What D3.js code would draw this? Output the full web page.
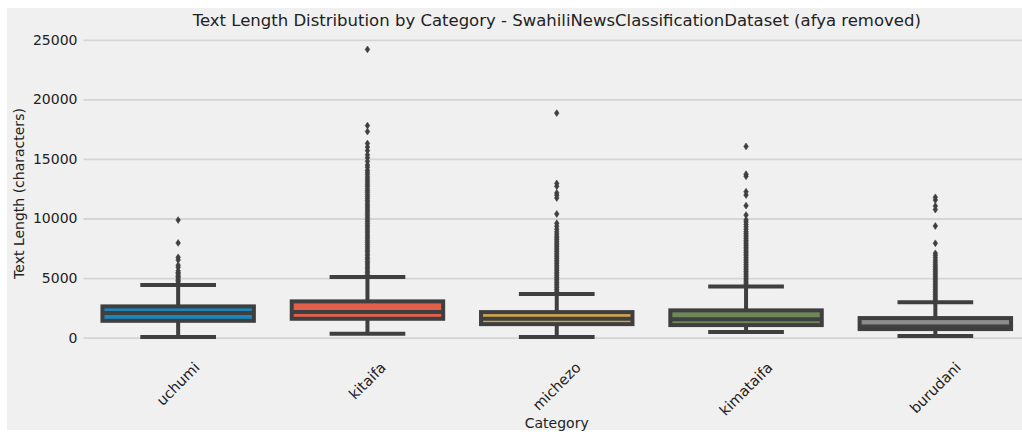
<!DOCTYPE html>
<html>
<head>
<meta charset="utf-8">
<script src="https://cdn.jsdelivr.net/npm/d3@7/dist/d3.min.js"></script>
<style>
  body { margin: 0; background: #ffffff; }
  svg { display: block; font-family: 'DejaVu Sans', sans-serif; }
</style>
</head>
<body>
<div id="chart"></div>
<script>
const categories = ['uchumi', 'kitaifa', 'michezo', 'kimataifa', 'burudani'];
const boxColors = ['#1b86ba', '#e2614a', '#cfa64e', '#6e8857', '#8b8b8b'];

// box statistics
const q1 = [1410, 1580, 1130, 1050, 715];
const medians = [2060, 2140, 1580, 1530, 940];
const q3 = [2620, 3040, 2140, 2285, 1640];
const whiskerLow = [40, 320, 40, 460, 130];
const whiskerHigh = [4410, 5085, 3655, 4300, 2960];

// outliers (fliers)
const fliersUchumi = [4520, 4680, 4790, 4900, 5050, 5130, 5240, 5380, 5460, 5610, 5900, 6080, 6520, 6740, 7950, 9870];
const fliersKitaifa = [5150, 5300, 5470, 5600, 5780, 5920, 6100, 6260, 6390, 6570, 6700, 6880, 7030, 7200, 7340, 7510,
  7660, 7820, 7990, 8130, 8300, 8460, 8610, 8790, 8940, 9100, 9270, 9420, 9580, 9750, 9900, 10080, 10230, 10400,
  10560, 10720, 10890, 11050, 11200, 11380, 11530, 11700, 11860, 12010, 12190, 12340, 12500, 12680, 12830, 13000,
  13170, 13330, 13500, 13700, 13880, 14050, 14300, 14500, 14800, 15100, 15350, 15700, 16000, 16300, 17300, 17800, 24200];
const fliersMichezo = [3750, 3900, 4040, 4190, 4330, 4480, 4610, 4760, 4900, 5050, 5190, 5340, 5480, 5630, 5770, 5920,
  6060, 6200, 6350, 6490, 6640, 6780, 6930, 7070, 7220, 7360, 7510, 7650, 7800, 7940, 8090, 8230, 8380, 8520, 8700,
  8880, 9100, 9350, 9600, 10380, 11720, 11950, 12150, 12700, 12950, 18850];
const fliersKimataifa = [4400, 4550, 4690, 4840, 4980, 5130, 5270, 5420, 5560, 5710, 5850, 6000, 6140, 6290, 6430,
  6580, 6720, 6870, 7010, 7160, 7300, 7450, 7590, 7740, 7880, 8030, 8170, 8320, 8460, 8610, 8760, 8900, 9100, 9300,
  9500, 9700, 9880, 10290, 11080, 11970, 12250, 13550, 13720, 16050];
const fliersBurudani = [3050, 3190, 3330, 3470, 3610, 3750, 3890, 4030, 4170, 4310, 4450, 4590, 4730, 4870, 5010,
  5150, 5290, 5430, 5570, 5710, 5850, 6000, 6150, 6320, 6500, 6700, 6900, 7080, 7920, 9370, 10750, 11050, 11550, 11780];
const fliers = [fliersUchumi, fliersKitaifa, fliersMichezo, fliersKimataifa, fliersBurudani];

const yTicks = [0, 5000, 10000, 15000, 20000, 25000];

const width = 1022;
const height = 432;
const plotLeft = 83.5;
const plotRight = 1030;
const plotTop = 35;
const plotBottom = 352;
const dark = '#3f3f3f';
const lineW = 4;

const svg = d3.select('#chart')
  .append('svg')
  .attr('width', width)
  .attr('height', height);

// figure background
svg.append('rect')
  .attr('x', 7)
  .attr('y', 8)
  .attr('width', width - 7)
  .attr('height', 422)
  .attr('fill', '#f0f0f0');

const xScale = d3.scaleBand()
  .domain(categories)
  .range([plotLeft, plotRight])
  .paddingInner(0)
  .paddingOuter(0);

const yScale = d3.scaleLinear()
  .domain([-1210, 25410])
  .range([plotBottom, plotTop]);

// horizontal grid lines
const yAxis = d3.axisLeft(yScale)
  .tickValues(yTicks)
  .tickSize(-(plotRight - plotLeft))
  .tickPadding(6)
  .tickFormat(d => d.toString());

const yAxisG = svg.append('g')
  .attr('transform', 'translate(' + plotLeft + ',0)')
  .call(yAxis);
yAxisG.select('.domain').remove();
yAxisG.selectAll('.tick line')
  .attr('stroke', '#d5d5d5')
  .attr('stroke-width', 1.8);
yAxisG.selectAll('.tick text')
  .attr('fill', '#222222')
  .style('font-size', '14px')
  .style('font-family', "'DejaVu Sans', sans-serif");

const boxW = xScale.bandwidth() * 0.8;
const capW = boxW / 2;

const boxes = svg.append('g')
  .selectAll('g')
  .data(categories)
  .join('g')
  .attr('transform', d => 'translate(' + (xScale(d) + xScale.bandwidth() / 2) + ',0)');

// whiskers
boxes.append('line')
  .attr('x1', 0).attr('x2', 0)
  .attr('y1', (d, i) => yScale(whiskerHigh[i]))
  .attr('y2', (d, i) => yScale(q3[i]))
  .attr('stroke', dark).attr('stroke-width', lineW);
boxes.append('line')
  .attr('x1', 0).attr('x2', 0)
  .attr('y1', (d, i) => yScale(q1[i]))
  .attr('y2', (d, i) => yScale(whiskerLow[i]))
  .attr('stroke', dark).attr('stroke-width', lineW);

// caps
boxes.append('line')
  .attr('x1', -capW / 2).attr('x2', capW / 2)
  .attr('y1', (d, i) => yScale(whiskerHigh[i]))
  .attr('y2', (d, i) => yScale(whiskerHigh[i]))
  .attr('stroke', dark).attr('stroke-width', lineW);
boxes.append('line')
  .attr('x1', -capW / 2).attr('x2', capW / 2)
  .attr('y1', (d, i) => yScale(whiskerLow[i]))
  .attr('y2', (d, i) => yScale(whiskerLow[i]))
  .attr('stroke', dark).attr('stroke-width', lineW);

// boxes
boxes.append('rect')
  .attr('x', -boxW / 2)
  .attr('width', boxW)
  .attr('y', (d, i) => yScale(q3[i]))
  .attr('height', (d, i) => yScale(q1[i]) - yScale(q3[i]))
  .attr('fill', (d, i) => boxColors[i])
  .attr('stroke', dark)
  .attr('stroke-width', lineW);

// medians
boxes.append('line')
  .attr('x1', -boxW / 2).attr('x2', boxW / 2)
  .attr('y1', (d, i) => yScale(medians[i]))
  .attr('y2', (d, i) => yScale(medians[i]))
  .attr('stroke', dark).attr('stroke-width', lineW);

// fliers as thin diamonds
const diamond = 'M0,-3.4L2.3,0L0,3.4L-2.3,0Z';
boxes.each(function (d, i) {
  d3.select(this).selectAll('path.flier')
    .data(fliers[i])
    .join('path')
    .attr('class', 'flier')
    .attr('d', diamond)
    .attr('transform', v => 'translate(0,' + yScale(v) + ')')
    .attr('fill', dark)
    .attr('stroke', dark)
    .attr('stroke-width', 0.6);
});

// x tick labels, rotated 45 degrees
const xLabels = svg.append('g')
  .selectAll('text')
  .data(categories)
  .join('text')
  .text(d => d)
  .attr('fill', '#222222')
  .style('font-size', '14.5px')
  .attr('text-anchor', 'middle')
  .attr('dominant-baseline', 'central');
xLabels.attr('transform', function (d) {
  const len = this.getComputedTextLength();
  const h = 14.5 * 1.15;
  const boxH = (len + h) / Math.SQRT2;
  const cx = xScale(d) + xScale.bandwidth() / 2;
  return 'translate(' + cx + ',' + (359 + boxH / 2) + ') rotate(-45)';
});

// title and axis labels
svg.append('text')
  .attr('x', (plotLeft + plotRight) / 2)
  .attr('y', 26)
  .attr('text-anchor', 'middle')
  .attr('fill', '#222222')
  .style('font-size', '16.5px')
  .text('Text Length Distribution by Category - SwahiliNewsClassificationDataset (afya removed)');

svg.append('text')
  .attr('x', (plotLeft + plotRight) / 2)
  .attr('y', 428)
  .attr('text-anchor', 'middle')
  .attr('fill', '#222222')
  .style('font-size', '14px')
  .text('Category');

svg.append('text')
  .attr('transform', 'translate(24,' + (plotTop + plotBottom) / 2 + ') rotate(-90)')
  .attr('text-anchor', 'middle')
  .attr('fill', '#222222')
  .style('font-size', '14px')
  .text('Text Length (characters)');
</script>
</body>
</html>
